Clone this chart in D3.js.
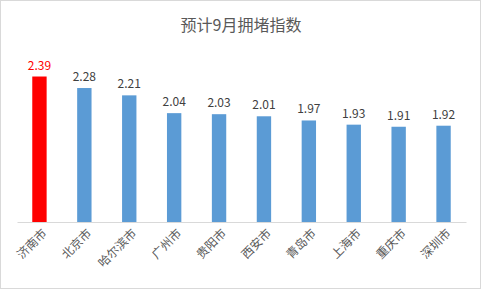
<!DOCTYPE html>
<html><head><meta charset="utf-8">
<script src="https://cdn.jsdelivr.net/npm/d3@7"></script>
<style>body{margin:0;background:#fff;} svg{display:block;}</style>
</head><body>
<script>
const categories = ["济南市","北京市","哈尔滨市","广州市","贵阳市","西安市","青岛市","上海市","重庆市","深圳市"];
const values = [2.39,2.28,2.21,2.04,2.03,2.01,1.97,1.93,1.91,1.92];
const highlight = ["济南市"];
const title = "预计9月拥堵指数";

const W = 481, H = 289;
const font = "'Microsoft YaHei','Noto Sans CJK SC',sans-serif";
const svg = d3.select("body").append("svg").attr("width", W).attr("height", H);
svg.append("rect").attr("x",0.5).attr("y",0.5).attr("width",W-1).attr("height",H-1)
  .attr("fill","#fff").attr("stroke","#d9d9d9");

svg.append("text").attr("x",241).attr("y",31).attr("text-anchor","middle")
  .attr("font-family",font).attr("font-size",16).attr("fill","#595959").text(title);

const x = d3.scaleBand().domain(categories).range([17,466]).paddingInner(0.68).paddingOuter(0.34);
const y = d3.scaleLinear().domain([1,2.5]).range([222,65]);

svg.selectAll("rect.bar").data(categories).enter().append("rect").attr("class","bar")
  .attr("x",d=>x(d)).attr("width",x.bandwidth())
  .attr("y",(d,i)=>y(values[i])).attr("height",(d,i)=>y(1)-y(values[i]))
  .attr("fill",d=>highlight.includes(d)?"#ff0000":"#5b9bd5");

svg.selectAll("text.val").data(categories).enter().append("text").attr("class","val")
  .attr("x",d=>x(d)+x.bandwidth()/2).attr("y",(d,i)=>y(values[i])-7)
  .attr("text-anchor","middle").attr("font-family",font).attr("font-size",12)
  .attr("fill",d=>highlight.includes(d)?"#ff0000":"#404040")
  .text((d,i)=>values[i].toFixed(2));

const axis = svg.append("g").attr("transform","translate(0,222)")
  .call(d3.axisBottom(x).tickSize(0).tickFormat(""));
axis.select(".domain").attr("stroke","#d9d9d9");

svg.selectAll("text.cat").data(categories).enter().append("text").attr("class","cat")
  .attr("transform",d=>`translate(${x(d)+x.bandwidth()/2+5},231) rotate(-45)`)
  .attr("text-anchor","end").attr("dy","0.35em")
  .attr("font-family",font).attr("font-size",12).attr("fill","#595959").text(d=>d);
</script>
</body></html>
